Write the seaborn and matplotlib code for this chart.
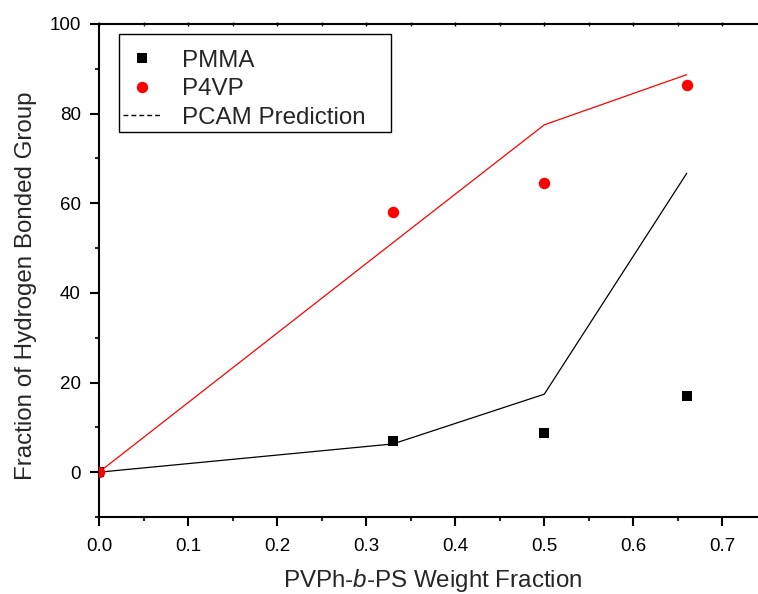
import matplotlib
matplotlib.use("Agg")
import matplotlib.pyplot as plt
from matplotlib.lines import Line2D
from matplotlib.patches import Rectangle
from matplotlib.ticker import MultipleLocator
import numpy as np
import pandas as pd
import seaborn as sns

# Measured fractions of hydrogen-bonded groups
weight_fraction = [0.0, 0.33, 0.50, 0.66]
pmma_measured = [0.0, 7.0, 8.7, 17.0]
p4vp_measured = [0.0, 58.0, 64.5, 86.3]

# PCAM model predictions at the same compositions
pmma_predicted = [0.0, 6.3, 17.4, 66.7]
p4vp_predicted = [0.0, 51.2, 77.5, 88.7]

series_names = ["PMMA", "P4VP"]
legend_labels = ["PMMA", "P4VP", "PCAM Prediction"]
x_label = "PVPh-$\\mathit{b}$-PS Weight Fraction"
y_label = "Fraction of Hydrogen Bonded Group"

sns.set_theme(style="ticks")
plt.rcParams["font.family"] = ["Liberation Sans", "DejaVu Sans"]
plt.rcParams["mathtext.fontset"] = "custom"
plt.rcParams["mathtext.rm"] = "Liberation Sans"
plt.rcParams["mathtext.it"] = "Liberation Sans:italic"

colors = {"PMMA": "#000000", "P4VP": "#FF0000"}

measured = pd.DataFrame({
    "x": weight_fraction * 2,
    "y": pmma_measured + p4vp_measured,
    "polymer": [series_names[0]] * 4 + [series_names[1]] * 4,
})
predicted = pd.DataFrame({
    "x": weight_fraction * 2,
    "y": pmma_predicted + p4vp_predicted,
    "polymer": [series_names[0]] * 4 + [series_names[1]] * 4,
})

W, H = 758, 594
L, R, T, B = 99, 758, 24, 517  # axes box in pixels

fig = plt.figure(figsize=(W / 100, H / 100), dpi=100)
ax = fig.add_axes([L / W, 1 - B / H, (R - L) / W, (B - T) / H])


def ax_x(px):
    return (px - L) / (R - L)


def ax_y(py):
    return (B - py) / (B - T)


sns.lineplot(data=predicted, x="x", y="y", hue="polymer", palette=colors,
             sort=False, linewidth=0.9, legend=False, ax=ax, zorder=2)

pm = measured[measured["polymer"] == "PMMA"]
pv = measured[measured["polymer"] == "P4VP"]
sns.scatterplot(data=pm, x="x", y="y", color=colors["PMMA"], marker="s",
                s=60, linewidth=0, legend=False, ax=ax, zorder=3)
sns.scatterplot(data=pv, x="x", y="y", color=colors["P4VP"], marker="o",
                s=68, linewidth=0, legend=False, ax=ax, zorder=4)

ax.set_xlim(0, 0.74)
ax.set_ylim(-10, 100)
ax.xaxis.set_minor_locator(MultipleLocator(0.05))
ax.yaxis.set_major_locator(MultipleLocator(20))
ax.yaxis.set_minor_locator(MultipleLocator(10))
ax.set_xticks(np.arange(0, 0.71, 0.1))
ax.set_xticklabels([f"{v:.1f}" for v in np.arange(0, 0.71, 0.1)])

for side in ("left", "bottom", "top"):
    ax.spines[side].set_linewidth(1.5)
    ax.spines[side].set_color("black")
ax.spines["right"].set_visible(False)

ax.tick_params(axis="both", which="major", direction="out", length=6.5,
               width=1.5, labelsize=13.5, colors="black")
ax.tick_params(axis="both", which="minor", direction="out", length=3.2,
               width=1.5)
ax.tick_params(axis="x", which="major", pad=8.5)
ax.tick_params(axis="y", which="major", pad=6.5)
ax.xaxis.set_tick_params(which="both", top=True, labeltop=False)
for t in ax.xaxis.get_major_ticks() + ax.xaxis.get_minor_ticks():
    t.tick2line.set_marker("|")
    t.tick2line.set_markersize(2.5)
    t.tick2line.set_markeredgewidth(1)

ax.set_xlabel(x_label, fontsize=17.4)
ax.set_ylabel(y_label, fontsize=17.4)
ax.xaxis.set_label_coords(ax_x(432.5), ax_y(566.5))
ax.yaxis.set_label_coords(ax_x(37), ax_y(286))

handles = [
    Line2D([], [], linestyle="none", marker="s", markersize=7.7,
           markerfacecolor="black", markeredgewidth=0),
    Line2D([], [], linestyle="none", marker="o", markersize=8.2,
           markerfacecolor="#FF0000", markeredgewidth=0),
    Line2D([], [], color="black", linewidth=1.0, linestyle=(0, (3.5, 2.2))),
]
leg = ax.legend(handles, legend_labels, loc="upper left",
                bbox_to_anchor=(ax_x(115.3), ax_y(42)),
                borderaxespad=0, fontsize=17.4, frameon=False,
                handlelength=1.6, handletextpad=0.85, labelspacing=0.27,
                borderpad=0.32)

# legend border box
ax.add_patch(Rectangle((ax_x(119), ax_y(132)), ax_x(391) - ax_x(119),
                       ax_y(34) - ax_y(132), transform=ax.transAxes,
                       fill=False, edgecolor="black", linewidth=1.0,
                       zorder=6, clip_on=False))

fig.savefig("out.png", dpi=100)
